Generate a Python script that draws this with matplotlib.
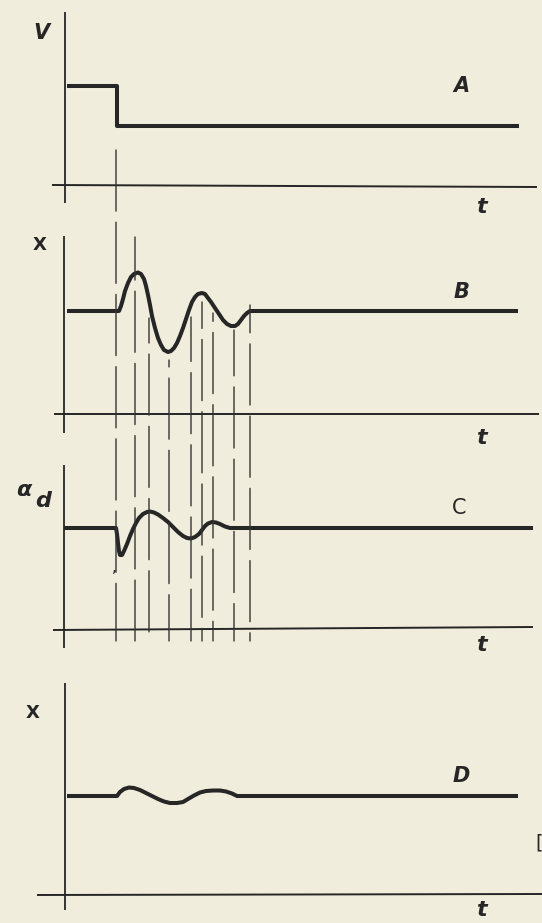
import matplotlib
matplotlib.use("Agg")
import matplotlib.pyplot as plt
from matplotlib.patches import ConnectionPatch

W, H = 542, 923
PAPER = "#f1eddc"
INK = "#262626"

# ---------------- data (time t and value v, in drawing units) ----------------
# Panel A: control input V (step)
a_t = [3, 53, 53, 455]
a_v = [99, 99, 59, 59]

# Panel B: x response
b_t = [3, 55, 57, 59, 61, 64, 67, 70, 74, 77, 80, 82, 84, 86, 88, 91, 94, 97,
       100, 104, 107, 110, 113, 116, 119, 122, 125, 128, 131, 134, 138, 141,
       144, 147, 151, 155, 159, 163, 167, 171, 174, 177, 180, 183, 186, 188, 454]
b_v = [103, 103, 108, 115, 123, 131, 137, 140, 141.5, 140, 135, 128, 119, 109,
       98, 86, 76, 69, 64, 62, 63, 66, 71, 78, 86, 95, 104, 112, 117, 120, 121,
       120, 116, 112, 106, 100, 94, 90, 88, 88, 90, 94, 98, 101, 103, 103, 103]

# Panel C: alpha_d
c_t = [0, 52, 53, 54, 55, 56, 58, 60, 63, 66, 69, 72, 75, 79, 83, 86, 90, 94,
       99, 104, 109, 114, 119, 123, 127, 131, 135, 138, 141, 144, 148, 152, 156,
       161, 166, 469]
c_v = [101, 101, 95, 86, 78, 74, 74, 78, 85, 93, 100, 106, 111, 115, 117, 117.5,
       116.5, 114.5, 111, 107, 102, 97, 93, 91, 90.5, 92, 95, 99, 103, 105.5,
       107, 106.5, 105, 102.5, 101, 101]

# Panel D: x response (damped)
d_t = [3, 53, 56, 60, 65, 70, 76, 82, 88, 94, 100, 106, 113, 119, 124, 130,
       136, 142, 149, 156, 162, 168, 173, 454]
d_v = [99, 99, 103, 106, 107.5, 107, 105, 102, 99, 96, 93.5, 92, 92, 93, 96,
       99.5, 102.5, 104, 104.5, 104.5, 103.5, 101.5, 99, 99]

# vertical construction lines (time, start value, start panel)
mark_t = [52, 71, 85, 105, 127, 138, 149, 170, 186]
mark_top = [35, 177, 96, 54, 97, 112, 101, 84, 109]
mark_panel = ["A", "B", "B", "B", "B", "B", "B", "B", "B"]
mark_bottom = -12  # in panel C

panel_names = ["A", "B", "C", "D"]

# ---------------- layout (pixels) ----------------
X0 = 64  # time origin in pixels
bands = {"A": (0, 230, 185), "B": (230, 455, 414), "C": (455, 665, 629), "D": (665, 923, 895)}
vaxis = {"A": (1, 173, -18), "B": (0, 178, -19), "C": (0, 164, -19), "D": (1, 212, -15)}
haxis = {"A": ((-12, 473), (0, -2)), "B": ((-10, 475), (0, 0)),
         "C": ((-11, 469), (-1, 2)), "D": ((-27, 478), (0, 1))}

fig = plt.figure(figsize=(W / 100, H / 100), dpi=100, facecolor=PAPER)
axes = {}
for name in panel_names:
    top, bot, y0 = bands[name]
    ax = fig.add_axes([0, 1 - bot / H, 1, (bot - top) / H])
    ax.set_xlim(-X0, W - X0)
    ax.set_ylim(y0 - bot, y0 - top)
    ax.axis("off")
    ax.patch.set_alpha(0)
    axes[name] = ax
    vx, vt, vb = vaxis[name]
    ax.plot([vx, vx], [vt, vb], color=INK, lw=1.3, solid_capstyle="butt", zorder=2)
    (h0, h1), (hv0, hv1) = haxis[name]
    ax.plot([h0, h1], [hv0, hv1], color=INK, lw=1.4, solid_capstyle="butt", zorder=2)

series = {"A": (a_t, a_v), "B": (b_t, b_v), "C": (c_t, c_v), "D": (d_t, d_v)}
for name in panel_names:
    t, v = series[name]
    axes[name].plot(t, v, color=INK, lw=2.9, solid_joinstyle="round",
                    solid_capstyle="butt", zorder=4)

# construction lines across panels
for i, (t, top, pnl) in enumerate(zip(mark_t, mark_top, mark_panel)):
    con = ConnectionPatch(xyA=(t, top), coordsA=axes[pnl].transData,
                          xyB=(t, mark_bottom), coordsB=axes["C"].transData,
                          color="#333333", lw=1.0,
                          linestyle=(i * 13 % 40, (44, 8)), zorder=3)
    fig.add_artist(con)


def ftext(x, y, s, **kw):
    fig.text(x / W, 1 - y / H, s, ha="center", va="center", color=INK, **kw)


lab = dict(fontsize=15, fontweight="bold", fontstyle="italic", family="DejaVu Sans")
ftext(41, 33, "V", **lab)
ftext(461, 86, "A", **lab)
ftext(40, 245, "X", fontsize=13, fontweight="bold", family="DejaVu Sans")
ftext(461, 292, "B", **lab)
ftext(459, 508, "C", fontsize=15, family="DejaVu Sans")
ftext(33, 713, "X", fontsize=13, fontweight="bold", family="DejaVu Sans")
ftext(461, 776, "D", **lab)
ftext(24, 490, "α", fontsize=16, fontstyle="italic", fontweight="bold", family="DejaVu Sans")
ftext(43, 501, "d", fontsize=16, fontstyle="italic", fontweight="bold", family="DejaVu Sans")
ftext(114, 567, ",", fontsize=11, family="DejaVu Sans")
for ty in (207, 438, 645, 910):
    ftext(481, ty, "t", fontsize=16, fontweight="bold", fontstyle="italic",
          family="DejaVu Sans")
ftext(539, 843, "[", fontsize=14, family="DejaVu Sans")

fig.savefig("out.png", dpi=100, facecolor=PAPER)
